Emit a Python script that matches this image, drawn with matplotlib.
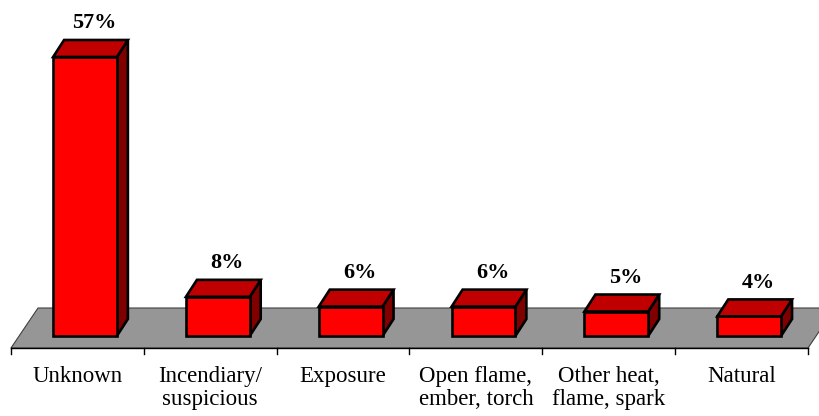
import matplotlib.pyplot as plt
from matplotlib.patches import Polygon

categories = ["Unknown", "Incendiary/\nsuspicious", "Exposure",
              "Open flame,\nember, torch", "Other heat,\nflame, spark", "Natural"]
values = [57, 8, 6, 6, 5, 4]
labels = ["57%", "8%", "6%", "6%", "5%", "4%"]

FRONT = "#ff0000"
TOP = "#c00000"
SIDE = "#800000"
FLOOR = "#969696"

fig = plt.figure(figsize=(8.2, 4.16), dpi=100)
# axes spans floor front edge (y=348px) to top of figure
ax = fig.add_axes([11 / 820, 68 / 416, 797 / 820, 348 / 416])
ax.set_xlim(-0.5, len(categories) - 0.5)
px_per_unit = 4.895
ax.set_ylim(-12 / px_per_unit, 336 / px_per_unit)
ax.axis("off")

# depth offsets (data units)
cat_px = 797 / len(categories)
bdx, bdy = 11 / cat_px, 17 / px_per_unit     # bar depth
fdx, fdy = 27 / cat_px, 40 / px_per_unit     # floor depth

# floor
y0 = -12 / px_per_unit
floor = Polygon([(-0.5, y0), (len(categories) - 0.5, y0),
                 (len(categories) - 0.5 + fdx, y0 + fdy), (-0.5 + fdx, y0 + fdy)],
                closed=True, facecolor=FLOOR, edgecolor="#404040", lw=0.8,
                clip_on=False, zorder=1)
ax.add_patch(floor)
ax.plot([-0.5, len(categories) - 0.5], [y0, y0], color="black", lw=1.0,
        clip_on=False, zorder=2)

# ticks at category boundaries
for b in range(len(categories) + 1):
    ax.plot([b - 0.5, b - 0.5], [y0, y0 - 6 / px_per_unit], color="black",
            lw=1.0, clip_on=False, zorder=2)

width = 0.48
shift = 0.057
for i, v in enumerate(values):
    x0 = i + shift - width / 2
    x1 = i + shift + width / 2
    front = Polygon([(x0, 0), (x1, 0), (x1, v), (x0, v)], closed=True,
                    facecolor=FRONT, edgecolor="black", lw=1.9, zorder=4,
                    joinstyle="miter")
    top = Polygon([(x0, v), (x1, v), (x1 + bdx, v + bdy), (x0 + bdx, v + bdy)],
                  closed=True, facecolor=TOP, edgecolor="black", lw=1.9, zorder=3,
                  joinstyle="miter")
    side = Polygon([(x1, 0), (x1, v), (x1 + bdx, v + bdy), (x1 + bdx, bdy)],
                   closed=True, facecolor=SIDE, edgecolor="black", lw=1.9, zorder=3,
                   joinstyle="miter")
    for p in (side, top, front):
        ax.add_patch(p)
    ax.annotate(labels[i], (i + shift + 0.07, v + bdy), xytext=(0, 8.5),
                textcoords="offset points", ha="center", va="baseline",
                fontsize=16, fontweight="bold", family="Liberation Serif")

for i, c in enumerate(categories):
    ax.annotate(c, (i, y0), xytext=(0, -13), textcoords="offset points",
                ha="center", va="top", fontsize=16.5, family="Liberation Serif",
                linespacing=1.12, annotation_clip=False)

fig.savefig("out.png", dpi=100)
